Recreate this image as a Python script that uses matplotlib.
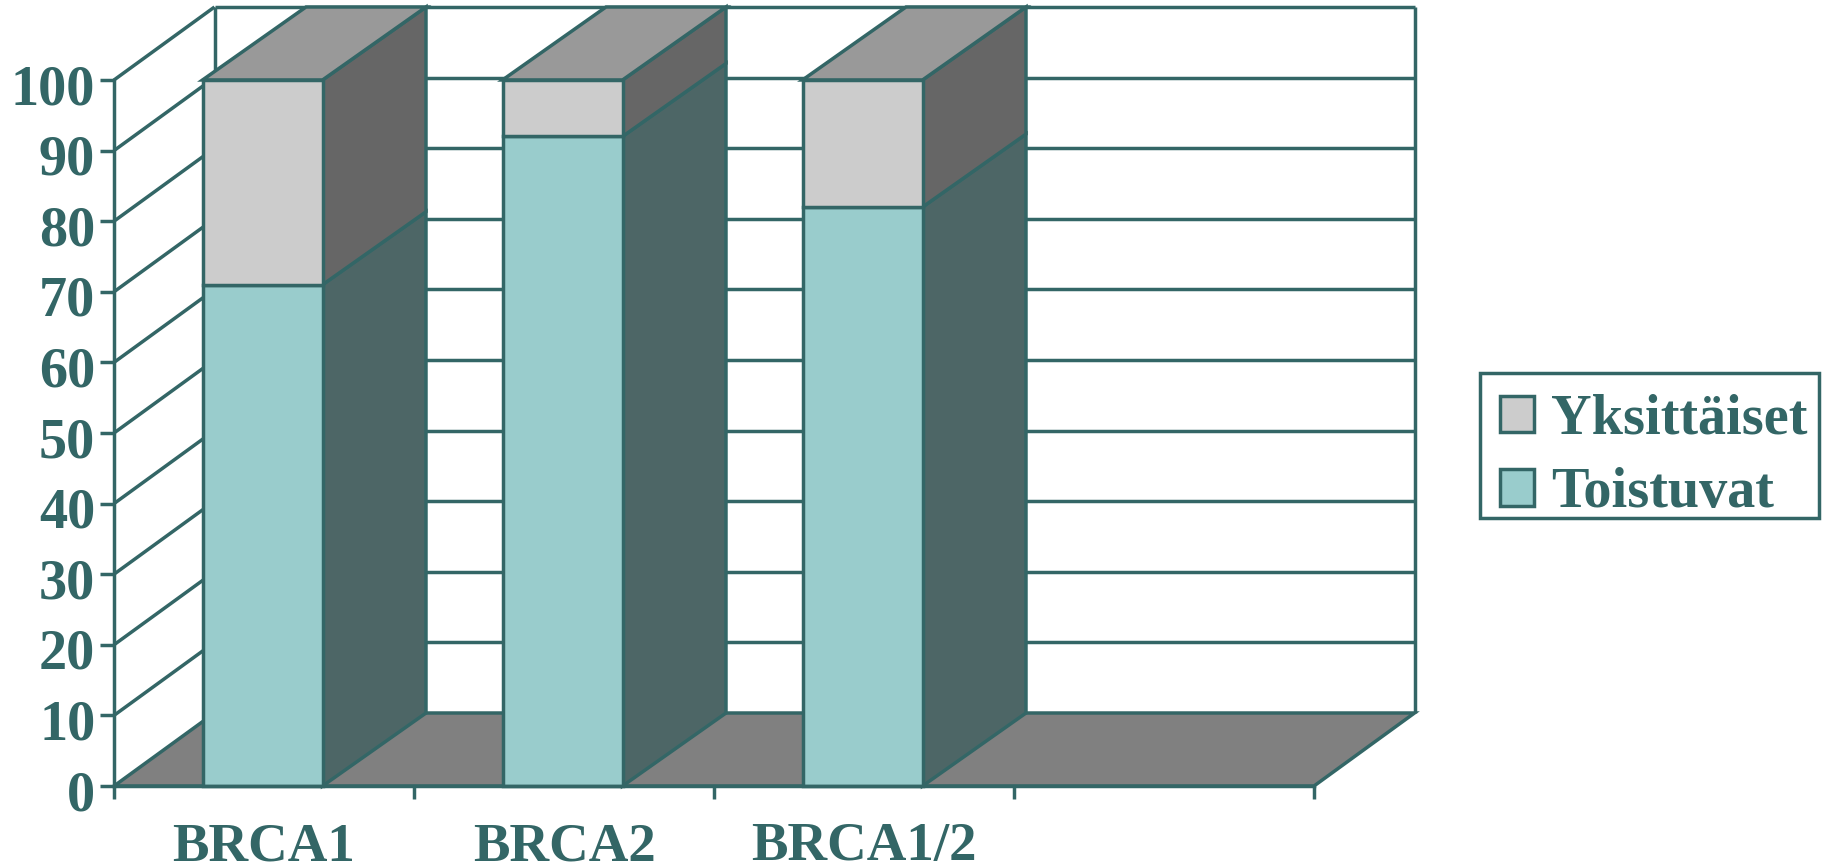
import matplotlib
matplotlib.use("Agg")
import matplotlib.pyplot as plt
from matplotlib.patches import Polygon, Patch, Rectangle
from matplotlib.transforms import ScaledTranslation

categories = ["BRCA1", "BRCA2", "BRCA1/2"]
toistuvat = [71, 92, 82]
yksittaiset = [29, 8, 18]
y_ticks = [0, 10, 20, 30, 40, 50, 60, 70, 80, 90, 100]
x_slots = 4

INK = "#336666"
TEAL = "#99CCCC"
TEAL_SIDE = "#4D6666"
GREY = "#CCCCCC"
GREY_SIDE = "#666666"
GREY_TOP = "#999999"
FLOOR = "#808080"

# Oblique projection: how far the back plane is shifted, in data units.
WALL_DX, WALL_DY = 0.335, 10.34
BAR_DX, BAR_DY = 0.345, 10.34
BAR_WIDTH = 0.40
BAR_CENTRE = 0.495
LW = 2.5

W, H = 1830, 868
fig = plt.figure(figsize=(W / 100, H / 100), dpi=100, facecolor="white")
ax = fig.add_axes([114 / W, 1 - 786 / H, (1314 - 114) / W, (786 - 80) / H])
ax.set_xlim(0, x_slots)
ax.set_ylim(0, 100)
ax.patch.set_visible(False)


def face(points, color, z):
    ax.add_patch(Polygon(points, closed=True, facecolor=color, edgecolor=INK,
                         linewidth=LW, joinstyle="miter", clip_on=False, zorder=z))


def line(xs, ys, z=2, lw=LW):
    ax.plot(xs, ys, color=INK, lw=lw, clip_on=False, zorder=z, solid_capstyle="butt")


# Floor and back walls
face([(0, 0), (x_slots, 0), (x_slots + WALL_DX, WALL_DY), (WALL_DX, WALL_DY)], FLOOR, 1)
for v in y_ticks[1:]:
    line([0, WALL_DX], [v, v + WALL_DY])
    line([WALL_DX, x_slots + WALL_DX], [v + WALL_DY, v + WALL_DY])
line([WALL_DX, WALL_DX], [WALL_DY, 100 + WALL_DY])
line([x_slots + WALL_DX, x_slots + WALL_DX], [WALL_DY, 100 + WALL_DY])

# Stacked bars with side and top faces
for i in range(len(categories)):
    x0 = i + BAR_CENTRE - BAR_WIDTH / 2
    x1 = i + BAR_CENTRE + BAR_WIDTH / 2
    low = toistuvat[i]
    high = low + yksittaiset[i]
    face([(x1, 0), (x1 + BAR_DX, BAR_DY), (x1 + BAR_DX, low + BAR_DY), (x1, low)], TEAL_SIDE, 3)
    face([(x1, low), (x1 + BAR_DX, low + BAR_DY), (x1 + BAR_DX, high + BAR_DY), (x1, high)], GREY_SIDE, 3)
    face([(x0, high), (x1, high), (x1 + BAR_DX, high + BAR_DY), (x0 + BAR_DX, high + BAR_DY)], GREY_TOP, 3)
    ax.bar(i + BAR_CENTRE, low, BAR_WIDTH, color=TEAL, edgecolor=INK, linewidth=LW, clip_on=False, zorder=4)
    ax.bar(i + BAR_CENTRE, yksittaiset[i], BAR_WIDTH, bottom=low, color=GREY, edgecolor=INK,
           linewidth=LW, clip_on=False, zorder=4)

# Axes, ticks and labels
for side in ("top", "right"):
    ax.spines[side].set_visible(False)
for side in ("left", "bottom"):
    ax.spines[side].set_color(INK)
    ax.spines[side].set_linewidth(LW)
    ax.spines[side].set_zorder(5)

value_font = {"family": "Liberation Serif", "weight": "bold", "size": 40.5, "color": INK}
name_font = {"family": "Liberation Serif", "weight": "bold", "size": 39.5, "color": INK}
ax.set_yticks(y_ticks)
ax.set_yticklabels([str(v) for v in y_ticks], fontdict=value_font)
ax.tick_params(axis="y", length=10, width=LW, color=INK, pad=3.5)
nudge = ScaledTranslation(0, -3 / 72, fig.dpi_scale_trans)
for lab in ax.get_yticklabels():
    lab.set_transform(lab.get_transform() + nudge)

ax.set_xticks(range(x_slots + 1))
ax.set_xticklabels([""] * (x_slots + 1))
ax.tick_params(axis="x", which="major", length=9, width=LW, color=INK)
ax.set_xticks([i + 0.5 for i in range(len(categories))], minor=True)
ax.set_xticklabels(categories, minor=True, fontdict=name_font)
ax.tick_params(axis="x", which="minor", length=0, pad=26)

# Legend: frame drawn separately so its padding is independent of the rows
fig.add_artist(Rectangle((1480 / W, 1 - 518 / H), (1819 - 1480) / W, (518 - 373) / H,
                         transform=fig.transFigure, facecolor="white",
                         edgecolor=INK, linewidth=LW))
handles = [Patch(facecolor=GREY, edgecolor=INK, linewidth=LW),
           Patch(facecolor=TEAL, edgecolor=INK, linewidth=LW)]
leg = fig.legend(handles, ["Yksittäiset", "Toistuvat"],
                 loc="center left", bbox_to_anchor=(1484 / W, 1 - 456.5 / H),
                 prop={"family": "Liberation Serif", "weight": "bold", "size": 40.5},
                 labelcolor=INK, frameon=False,
                 borderpad=0.28, labelspacing=0.38, handlelength=0.60, handleheight=0.62,
                 handletextpad=0.32, borderaxespad=0)

fig.savefig("out.png", dpi=100)
